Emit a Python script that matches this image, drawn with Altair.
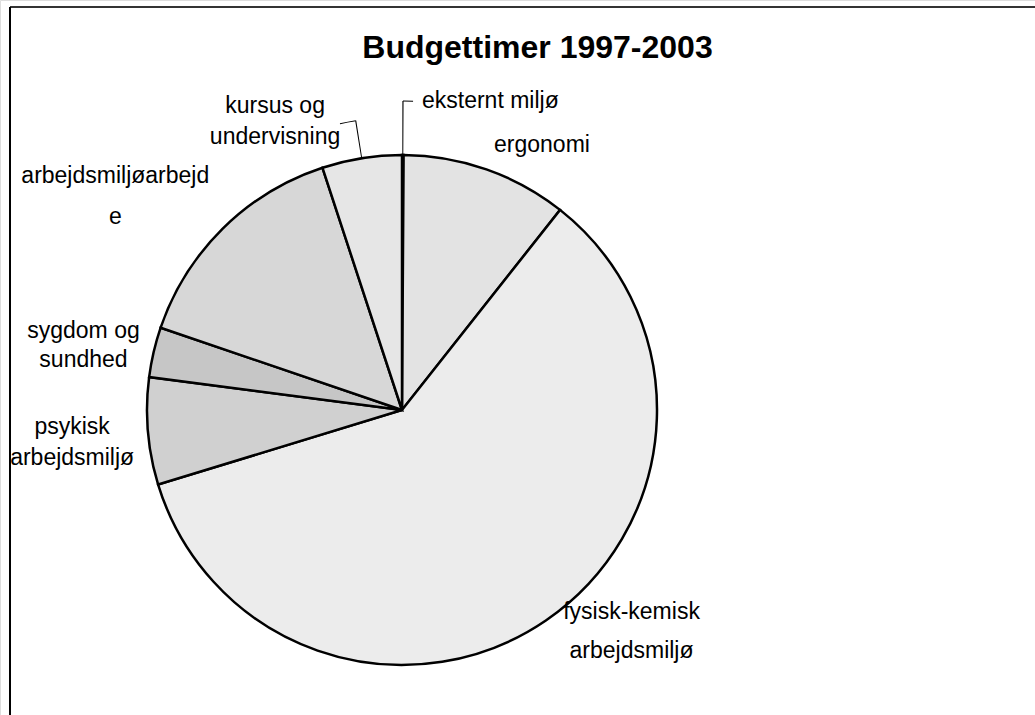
import math
import altair as alt
import pandas as pd

# ---- data (shares in percent) ----
categories = [
    "eksternt miljø",
    "ergonomi",
    "fysisk-kemisk arbejdsmiljø",
    "psykisk arbejdsmiljø",
    "sygdom og sundhed",
    "arbejdsmiljøarbejde",
    "kursus og undervisning",
]
shares = [0.1, 10.54, 59.64, 6.78, 3.17, 14.72, 5.05]
label_texts = [
    "eksternt miljø",
    "ergonomi",
    "fysisk-kemisk\narbejdsmiljø",
    "psykisk\narbejdsmiljø",
    "sygdom og\nsundhed",
    "arbejdsmiljøarbejd\ne",
    "kursus og\nundervisning",
]
fills = ["#ffffff", "#e3e3e3", "#ececec", "#d0d0d0", "#c6c6c6", "#d7d7d7", "#e6e6e6"]

title_text = "Budgettimer 1997-2003"

df = pd.DataFrame({
    "kategori": categories,
    "andel": shares,
    "label": label_texts,
    "rk": list(range(len(categories))),
})
total = sum(shares)

FONT = "Liberation Sans"
CX, CY = 402, 410
R = 255

theta_scale = alt.Scale(domain=[0, total], range=[0, 2 * math.pi])

base = (
    alt.Chart(df)
    .transform_window(cum="sum(andel)", sort=[alt.SortField("rk")], frame=[None, 0])
    .transform_calculate(start="datum.cum - datum.andel", mid="datum.cum - datum.andel / 2")
)

pie = base.mark_arc(radius=R, stroke="black", strokeWidth=2.5).encode(
    x=alt.value(CX),
    y=alt.value(CY),
    theta=alt.Theta("start:Q", scale=theta_scale),
    theta2="cum:Q",
    color=alt.Color("kategori:N", scale=alt.Scale(domain=categories, range=fills), legend=None),
    order=alt.Order("rk:Q"),
)

# label placement: (radius, dx, dy, align, lineHeight)
placements = {
    0: (309, 19, 0, "left", 30),
    1: (299, 41, 17, "center", 30),
    2: (320, 49, -62, "center", 39),
    3: (331, 0, -11, "center", 31),
    4: (325, -2, -5, "center", 29),
    5: (358, -35, 21, "center", 41),
    6: (316, -77, 8, "center", 31),
}

layers = [pie]
for rk, (rad, dx, dy, al, lh) in placements.items():
    layers.append(
        base.transform_filter(alt.datum.rk == rk)
        .mark_text(radius=rad, dx=dx, dy=dy, align=al, baseline="middle",
                   font=FONT, fontSize=23, lineBreak="\n", lineHeight=lh, color="black")
        .encode(
            x=alt.value(CX),
            y=alt.value(CY),
            theta=alt.Theta("mid:Q", scale=theta_scale),
            text="label:N",
        )
    )

# leader lines for the two small slices (thin black arcs)
def leader(rk, t0, t1, r_out, r_in):
    return (
        base.transform_filter(alt.datum.rk == rk)
        .transform_calculate(a0=t0, a1=t1)
        .mark_arc(radius=r_out, radius2=r_in, color="black")
        .encode(
            x=alt.value(CX),
            y=alt.value(CY),
            theta=alt.Theta("a0:Q", scale=theta_scale),
            theta2="a1:Q",
        )
    )

layers += [
    leader(0, "datum.mid - 0.03", "datum.mid + 0.03", 309, R),
    leader(0, "datum.mid", "datum.mid + 0.52", 309.5, 308.5),
    leader(6, "datum.mid - 0.03", "datum.mid + 0.03", 293, R),
    leader(6, "datum.mid - 0.87", "datum.mid", 293.5, 292.5),
]

frame_df = pd.DataFrame({"k": [0]})
top_border = alt.Chart(frame_df).mark_rule(color="#333333", strokeWidth=2).encode(
    x=alt.value(10), x2=alt.value(1040), y=alt.value(7)
)
left_border = alt.Chart(frame_df).mark_rule(color="black", strokeWidth=2).encode(
    x=alt.value(10), y=alt.value(7), y2=alt.value(720)
)
layers += [top_border, left_border]

chart = (
    alt.layer(*layers)
    .properties(
        width=1035,
        height=715,
        autosize=alt.AutoSizeParams(type="none"),
        padding=0,
        title=alt.Title(
            title_text, font=FONT, fontSize=32, fontWeight="bold", color="black",
            anchor="middle", offset=0, baseline="alphabetic", dx=20, dy=90,
        ),
    )
    .configure_view(stroke=None)
    .configure(background="white")
)

chart.save("out.html", embed_options={"renderer": "svg", "actions": False})
